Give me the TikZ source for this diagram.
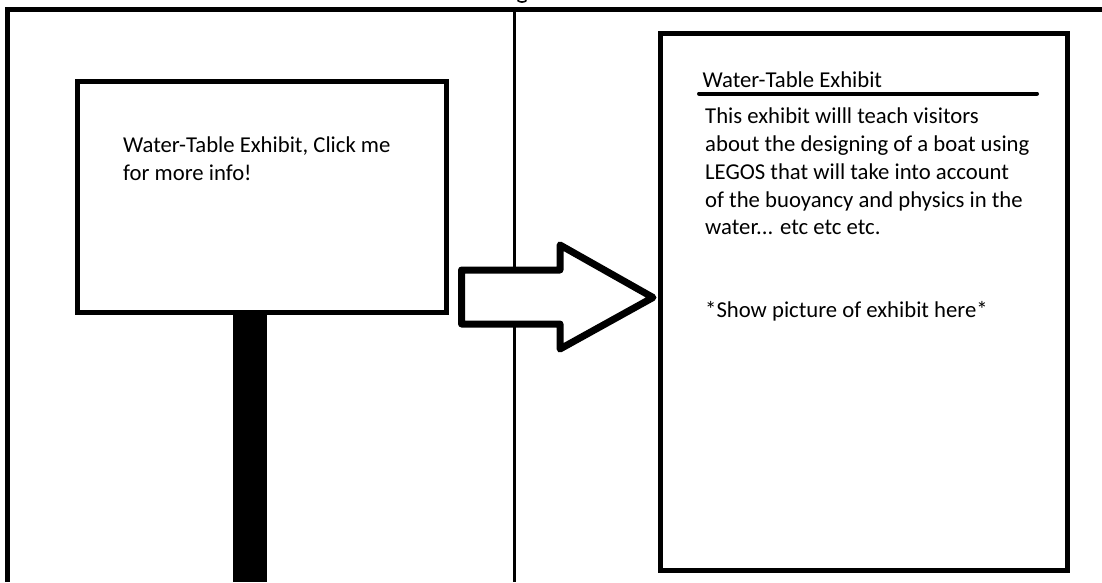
\documentclass[tikz,border=0pt]{standalone}
\usepackage{fontspec}
\setmainfont{Carlito}
\begin{document}
\begin{tikzpicture}[x=1pt,y=-1pt,
  txt/.style={anchor=base west,inner sep=0pt,font=\fontsize{22.7}{28}\selectfont,text=black},
  frame/.style={draw=black,line width=5pt},
  thinline/.style={draw=black,line width=3.5pt}]
\useasboundingbox[fill=white] (0,0) rectangle (1102,582);
% panel frame
\draw[frame,line cap=butt] (7.5,582) -- (7.5,9.5) -- (1102,9.5);
\draw[thinline] (514.5,9.5) -- (514.5,582);
% cut descender at the top
\draw[line width=1.6pt] (517.5,0.3) .. controls (519.5,2.6) and (524.5,2.6) .. (526.5,0.3);
% sign on a pole
\fill[black] (233,308) rectangle (267,582);
\node[frame,fill=white,minimum width=369pt,minimum height=231pt,anchor=north west,inner sep=0pt] (sign) at (74.5,78.5) {};
\node[txt] (s1) at (123,152) {Water-Table Exhibit, Click me};
\node[txt] (s2) at (123,180) {for more info!};
% big arrow
\draw[line width=7pt,line join=round,fill=white]
  (461.5,270) -- (560,270) -- (560,245) -- (653,297.5) -- (560,349) -- (560,324) -- (461.5,324) -- cycle;
% info page
\node[frame,fill=none,minimum width=407pt,minimum height=537pt,anchor=north west,inner sep=0pt] (page) at (657.5,30.5) {};
\node[txt] (t0) at (702.5,87) {Water-Table Exhibit};
\draw[line width=4pt,line cap=round] (699,93.5) -- (1037,93.5);
\node[txt] (b1) at (705,123) {This exhibit willl teach visitors};
\node[txt] (b2) at (705,151.5) {about the designing of a boat using};
\node[txt] (b3) at (705,179.5) {LEGOS that will take into account};
\node[txt] (b4) at (705,207) {of the buoyancy and physics in the};
\node[txt] (b5) at (705,234) {water... etc etc etc.};
\node[txt] (b6) at (705,317) {*Show picture of exhibit here*};
\end{tikzpicture}
\end{document}
